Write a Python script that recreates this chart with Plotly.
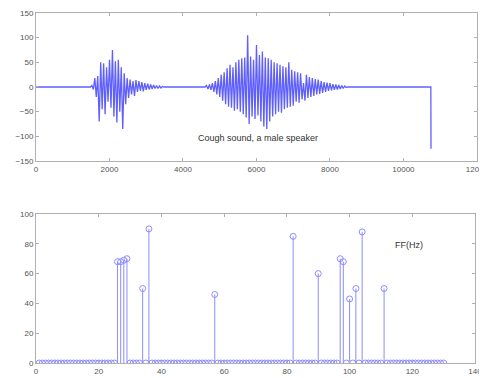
import plotly.graph_objects as go

# ---------------- data ----------------
# Top: cough waveform (hand-read estimates), sampled every 40 samples inside bursts
burst1_start = 1480
burst1_values = [0, 3, -5, 18, -20, 22, -70, 50, -45, 48, -55, 40, -30, 55, -42, 75, -60, 52, -72, 55,
                 -50, 40, -85, 28, -35, 18, -22, 15, -15, 12, -18, 14, -10, 12, -8, 10, -9, 8, -6, 7,
                 -5, 5, -4, 4, -3, 3, -3, 2, -2, 1, 0]
burst2_start = 4600
burst2_values = [0, 3, -4, 5, -6, 8, -10, 12, -15, 18, -20, 25, -28, 30, -35, 38, -40, 45, -42, 40,
                 -48, 50, -45, 55, -50, 58, -55, 60, -62, 105, -75, 62, -60, 55, -65, 85, -58, 65, -70, 72,
                 -80, 60, -85, 58, -70, 55, -60, 50, -55, 48, -50, 45, -52, 42, -45, 40, -42, 50, -40, 35,
                 -38, 32, -30, 30, -32, 28, -25, 8, -28, 25, -22, 20, -20, 18, -18, 16, -15, 15, -14, 12,
                 -12, 10, -10, 9, -8, 8, -7, 6, -6, 5, -5, 4, -4, 3, -3, 2, -1, 0]
step = 40
signal_end_x = [10745, 10750]
signal_end_y = [0, -125]

# Bottom: FF(Hz) stem values (index -> value), all other indices 0
ff_n = 130
ff_nonzero = {26: 68, 27: 68, 28: 69, 29: 70, 34: 50, 36: 90, 57: 46, 82: 85, 90: 60,
              97: 70, 98: 68, 100: 43, 102: 50, 104: 88, 111: 50}

top_xticks = [0, 2000, 4000, 6000, 8000, 10000, 12000]
top_yticks = [-150, -100, -50, 0, 50, 100, 150]
bot_xticks = [0, 20, 40, 60, 80, 100, 120, 140]
bot_yticks = [0, 20, 40, 60, 80, 100]

# ---------------- build ----------------
wx = [1, burst1_start - step]
wy = [0, 0]
wx += [burst1_start + i * step for i in range(len(burst1_values))]
wy += burst1_values
wx += [burst2_start + i * step for i in range(len(burst2_values))]
wy += burst2_values
wx += signal_end_x
wy += signal_end_y

ff_x = list(range(1, ff_n + 1))
ff_y = [ff_nonzero.get(i, 0) for i in ff_x]

stem_x, stem_y = [], []
for xv, yv in zip(ff_x, ff_y):
    stem_x += [xv, xv, None]
    stem_y += [0, yv, None]

wave_col = "rgb(95,95,255)"
stem_col = "rgb(140,140,255)"

fig = go.Figure()
fig.add_trace(go.Scatter(x=wx, y=wy, mode="lines", line=dict(color=wave_col, width=1.3),
                         xaxis="x", yaxis="y", hoverinfo="skip", showlegend=False))
fig.add_trace(go.Scatter(x=stem_x, y=stem_y, mode="lines", line=dict(color=stem_col, width=1),
                         xaxis="x2", yaxis="y2", hoverinfo="skip", showlegend=False))
fig.add_trace(go.Scatter(x=ff_x, y=ff_y, mode="markers",
                         marker=dict(symbol="circle-open", size=6, color=stem_col, line=dict(width=1)),
                         xaxis="x2", yaxis="y2", showlegend=False))

axcommon = dict(showgrid=False, zeroline=False, showline=True, linecolor="#b0b0b0", linewidth=1,
                mirror="ticks", ticks="inside", ticklen=3, tickcolor="#b0b0b0",
                tickformat="d", exponentformat="none", automargin=False, ticklabeloverflow="allow",
                tickfont=dict(family="Arial, Liberation Sans", size=8, color="#555555"))

# page body has an 8px margin, so the figure is 8px smaller than the window
fig.update_layout(
    width=479, height=370, margin=dict(l=0, r=0, t=0, b=0, autoexpand=False),
    paper_bgcolor="white", plot_bgcolor="white", showlegend=False,
    xaxis=dict(domain=[0.0585, 0.979], range=[0, 12000], tickvals=top_xticks, anchor="y", **axcommon),
    yaxis=dict(domain=[0.5865, 0.9865], range=[-150, 150], tickvals=top_yticks, anchor="x", **axcommon),
    xaxis2=dict(domain=[0.0585, 0.975], range=[0, 140], tickvals=bot_xticks, anchor="y2", **axcommon),
    yaxis2=dict(domain=[0.0405, 0.4432], range=[0, 100], tickvals=bot_yticks, anchor="x2", **axcommon),
    annotations=[
        dict(x=6040, y=-103, xref="x", yref="y", text="Cough sound, a male speaker", showarrow=False,
             font=dict(family="Arial, Liberation Sans", size=9, color="#333333")),
        dict(x=119, y=79, xref="x2", yref="y2", text="FF(Hz)", showarrow=False,
             font=dict(family="Arial, Liberation Sans", size=9, color="#333333")),
    ],
)

fig.write_html("out.html")
